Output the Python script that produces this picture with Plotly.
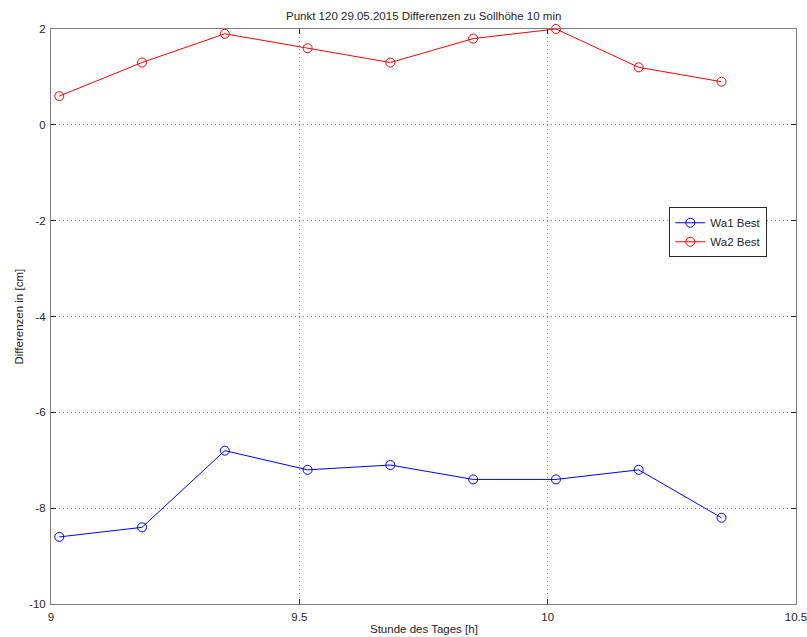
import plotly.graph_objects as go

hours = [9.0167, 9.1833, 9.35, 9.5167, 9.6833, 9.85, 10.0167, 10.1833, 10.35]
wa1_best = [-8.6, -8.4, -6.8, -7.2, -7.1, -7.4, -7.4, -7.2, -8.2]
wa2_best = [0.6, 1.3, 1.9, 1.6, 1.3, 1.8, 2.0, 1.2, 0.9]
x_ticks = [9, 9.5, 10, 10.5]
x_tick_labels = ["9", "9.5", "10", "10.5"]
y_ticks = [-10, -8, -6, -4, -2, 0, 2]
y_tick_labels = ["-10", "-8", "-6", "-4", "-2", "0", "2"]

fig = go.Figure()
fig.add_trace(go.Scatter(x=hours, y=wa1_best, name="Wa1 Best", mode="lines+markers",
                         line=dict(color="#0000ff", width=1),
                         marker=dict(symbol="circle-open", size=9, color="#0000ff", line=dict(width=1)),
                         cliponaxis=False))
fig.add_trace(go.Scatter(x=hours, y=wa2_best, name="Wa2 Best", mode="lines+markers",
                         line=dict(color="#ff0000", width=1),
                         marker=dict(symbol="circle-open", size=9, color="#ff0000", line=dict(width=1)),
                         cliponaxis=False))

txt = "#262626"
fs = 11.5
axis_common = dict(showline=True, linecolor="#7f7f7f", linewidth=1, mirror="ticks",
                   ticks="inside", ticklen=5, tickcolor=txt,
                   showgrid=True, gridcolor="#8c8c8c", griddash="1px,3px", gridwidth=1,
                   zeroline=False, tickfont=dict(size=fs, color=txt),
                   automargin=False, ticklabeloverflow="allow")

fig.update_layout(
    width=807, height=637,
    margin=dict(l=51, r=11, t=29, b=33),
    paper_bgcolor="white", plot_bgcolor="white",
    font=dict(family="Liberation Sans, Arial, sans-serif", size=fs, color=txt),
    xaxis=dict(range=[9, 10.5], tickvals=x_ticks, ticktext=x_tick_labels,
               ticklabelstandoff=2, **axis_common),
    yaxis=dict(range=[-10, 2], tickvals=y_ticks, ticktext=y_tick_labels,
               ticklabelstandoff=2, **axis_common),
    legend=dict(x=0.83, y=0.69, xanchor="left", yanchor="top",
                bgcolor="white", bordercolor=txt, borderwidth=1,
                font=dict(size=fs, color=txt), tracegroupgap=0,
                itemwidth=30),
    showlegend=True,
    annotations=[
        dict(text="Punkt 120 29.05.2015 Differenzen zu Sollhöhe 10 min",
             x=0.5, xref="paper", y=1, yref="paper", yanchor="bottom",
             yshift=5, showarrow=False, font=dict(size=fs, color=txt)),
        dict(text="Stunde des Tages [h]", x=0.5, xref="paper", y=0, yref="paper",
             yanchor="middle", yshift=-25, showarrow=False, font=dict(size=fs, color=txt)),
        dict(text="Differenzen in [cm]", x=0, xref="paper", y=0.5, yref="paper",
             xanchor="center", xshift=-33, textangle=-90, showarrow=False,
             font=dict(size=fs, color=txt)),
    ],
)

fig.write_html("out.html", config={"displayModeBar": False},
               post_script="document.body.style.margin='0';document.body.style.overflow='hidden';")
